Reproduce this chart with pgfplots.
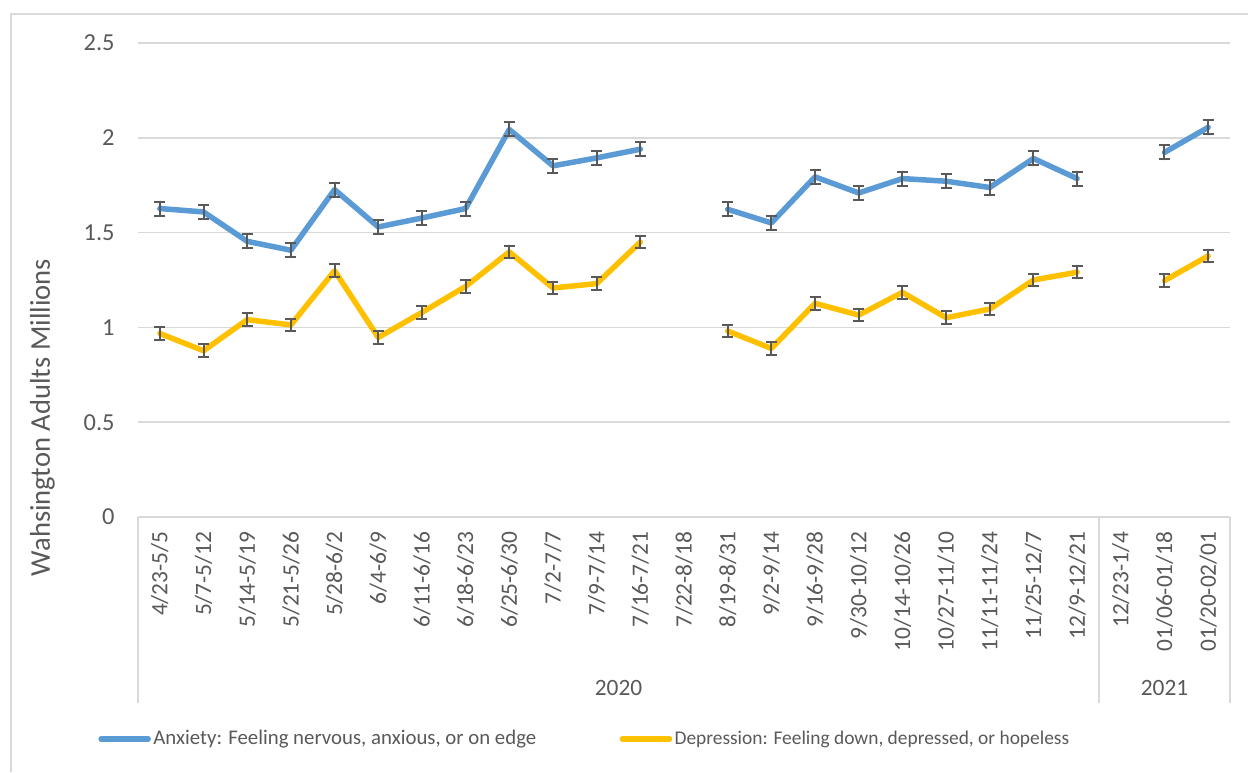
\documentclass[border=0pt]{standalone}
\usepackage{fontspec}
\setmainfont{Carlito}
\usepackage{pgfplots}
\usepackage{pgfplotstable}
\pgfplotsset{compat=1.18}
\definecolor{anx}{HTML}{5B9BD5}
\definecolor{dep}{HTML}{FFC000}
\definecolor{txt}{HTML}{595959}
\definecolor{gridc}{HTML}{D9D9D9}

% weekly survey values (millions), nan = no data
\pgfplotstableread{
x  anx   anxe  dep   depe
0  1.627 0.037 0.968 0.033
1  1.609 0.037 0.877 0.033
2  1.454 0.037 1.041 0.033
3  1.407 0.037 1.013 0.033
4  1.727 0.037 1.299 0.033
5  1.530 0.037 0.947 0.033
6  1.577 0.037 1.079 0.033
7  1.627 0.037 1.216 0.033
8  2.044 0.037 1.398 0.033
9  1.852 0.037 1.208 0.033
10 1.894 0.037 1.231 0.033
11 1.940 0.037 1.450 0.033
12 nan   nan   nan   nan
13 1.623 0.037 0.981 0.033
14 1.551 0.037 0.889 0.033
15 1.794 0.037 1.127 0.033
16 1.709 0.037 1.065 0.033
17 1.785 0.037 1.185 0.033
18 1.771 0.037 1.051 0.033
19 1.738 0.037 1.097 0.033
20 1.891 0.037 1.250 0.033
21 1.785 0.037 1.291 0.033
22 nan   nan   nan   nan
23 1.923 0.037 1.247 0.033
24 2.055 0.037 1.377 0.033
}\data

\newcommand\tickfont{\fontsize{11.7}{14}\selectfont}

\begin{document}
\begin{tikzpicture}[font=\fontsize{10.4}{12.5}\selectfont]
  % chart frame (only left and top edges are visible)
  \draw[gridc, line width=0.75pt] (5.5pt,-386pt) -- (5.5pt,-7pt) -- (624pt,-7pt);

  \begin{axis}[
    at={(69pt,-258.5pt)}, anchor=south west,
    scale only axis, width=546pt, height=237pt,
    xmin=-0.5, xmax=24.5, ymin=0, ymax=2.5,
    axis x line*=bottom, axis y line*=left,
    x axis line style={gridc, line width=0.75pt, -},
    y axis line style={draw=none},
    major tick length=0pt,
    ytick={0,0.5,1,1.5,2,2.5},
    ymajorgrids,
    grid style={gridc, line width=0.75pt},
    xtick={0,...,24},
    xticklabels={4/23-5/5,5/7-5/12,5/14-5/19,5/21-5/26,5/28-6/2,6/4-6/9,
      6/11-6/16,6/18-6/23,6/25-6/30,7/2-7/7,7/9-7/14,7/16-7/21,7/22-8/18,
      8/19-8/31,9/2-9/14,9/16-9/28,9/30-10/12,10/14-10/26,10/27-11/10,
      11/11-11/24,11/25-12/7,12/9-12/21,12/23-1/4,01/06-01/18,01/20-02/01},
    xticklabel style={rotate=90, anchor=east, inner sep=0pt, text=txt, font=\tickfont},
    xticklabel shift=7pt,
    yticklabel style={anchor=east, inner sep=0pt, text=txt, font=\fontsize{12.2}{14}\selectfont},
    yticklabel shift=11.5pt,
    /pgf/number format/assume math mode=true,
    unbounded coords=jump,
    legend columns=2,
    legend cell align=left,
    legend style={at={(-0.0366,-0.468)}, anchor=west, draw=none, fill=none,
      inner sep=0pt, text=txt,
      nodes={inner xsep=1.2pt, inner ysep=0pt},
      /tikz/every even column/.append style={column sep=40.5pt}},
    legend image code/.code={\draw[#1, line cap=round] (0pt,0pt) -- (23.5pt,0pt);},
    error bars/error bar style={txt, line width=1pt},
    error bars/error mark options={txt, rotate=90, mark size=2.75pt, line width=1pt},
  ]
    \addplot[anx, line width=2.75pt, line join=round, line cap=round,
      error bars/.cd, y dir=both, y explicit]
      table[x=x, y=anx, y error=anxe] {\data};
    \addlegendentry{Anxiety: Feeling nervous, anxious, or on edge}
    \addplot[dep, line width=2.75pt, line join=round, line cap=round,
      error bars/.cd, y dir=both, y explicit]
      table[x=x, y=dep, y error=depe] {\data};
    \addlegendentry{\fontsize{9.7}{12.5}\selectfont Depression: Feeling down, depressed, or hopeless}
  \end{axis}

  % year grouping under the category labels
  \draw[gridc, line width=0.75pt] (69pt,-258.5pt) -- (69pt,-351.5pt)
    (549.5pt,-258.5pt) -- (549.5pt,-351.5pt)
    (615pt,-258.5pt) -- (615pt,-351.5pt);
  \node[text=txt, font=\tickfont] at (309.25pt,-344pt) {2020};
  \node[text=txt, font=\tickfont] at (582.25pt,-344pt) {2021};

  \node[text=txt, rotate=90, font=\fontsize{14.3}{16}\selectfont] at (21.25pt,-208.75pt) {Wahsington Adults Millions};

  \pgfresetboundingbox
  \path[use as bounding box] (0pt,0pt) rectangle (624pt,-386pt);
\end{tikzpicture}
\end{document}
